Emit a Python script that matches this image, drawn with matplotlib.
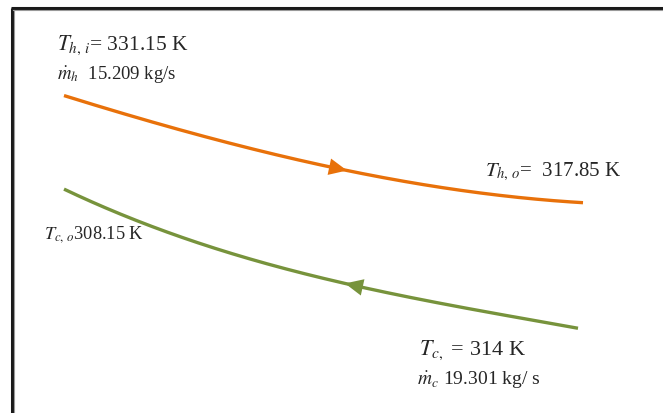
import numpy as np
import matplotlib
matplotlib.use("Agg")
import matplotlib.pyplot as plt

plt.rcParams['mathtext.fontset'] = 'stix'
plt.rcParams['font.family'] = ['Liberation Serif', 'DejaVu Serif']

# Curve profiles (pixel-space diagram coordinates)
hot_x = [64, 120, 200, 280, 338, 400, 480, 583]
hot_y = [97, 113, 136, 157, 170, 182, 193, 204]
cold_x = [64, 110, 165, 250, 320, 352, 400, 480, 578]
cold_y = [190, 210, 234, 260, 277, 285, 298, 312, 329]

hot_arrow_at = 340   # arrow points to the right (flow direction)
cold_arrow_at = 352  # arrow points to the left

labels = {
    'hot_in': r'$T_{h,\,i}$= 331.15 K',
    'hot_flow': r'$\dot{m}_{h}$  15.209 kg/s',
    'hot_out': r'$T_{h,\,o}$=  317.85 K',
    'cold_out': r'$T_{c,\,o}$308.15 K',
    'cold_in': r'$T_{c,}$ = 314 K',
    'cold_flow': r'$\dot{m}_{c}$ 19.301 kg/ s',
}

ORANGE = '#E8710A'
GREEN = '#77933C'

fig = plt.figure(figsize=(6.63, 4.14), dpi=100)
ax = fig.add_axes([0, 0, 1, 1])
ax.set_xlim(0, 663)
ax.set_ylim(414, 0)
ax.axis('off')

def smooth(xs, ys):
    xx = np.linspace(xs[0], xs[-1], 300)
    c = np.polyfit(xs, ys, 3)
    return xx, np.polyval(c, xx), c

hx, hy, hc = smooth(hot_x, hot_y)
cx, cy, cc = smooth(cold_x, cold_y)
ax.plot(hx, hy, color=ORANGE, lw=2.4, solid_capstyle='butt')
ax.plot(cx, cy, color=GREEN, lw=2.4, solid_capstyle='butt')

def arrow(c, x0, direction, color):
    x1 = x0 + direction * 7
    xb = x0 - direction * 18
    ax.annotate('', xy=(x1, np.polyval(c, x1)), xytext=(xb, np.polyval(c, xb)),
                arrowprops=dict(arrowstyle='-|>,head_length=1.3,head_width=0.6',
                                color=color, lw=0, shrinkA=0, shrinkB=0))

arrow(hc, hot_arrow_at, 1, ORANGE)
arrow(cc, cold_arrow_at, -1, GREEN)

tc = '#262626'
ax.text(57, 45, labels['hot_in'], fontsize=15.5, va='center', ha='left', color=tc)
ax.text(57, 75, labels['hot_flow'], fontsize=13.5, va='center', ha='left', color=tc)
ax.text(485, 172, labels['hot_out'], fontsize=15, va='center', ha='left', color=tc)
ax.text(44, 235, labels['cold_out'], fontsize=13.2, va='center', ha='left', color=tc)
ax.text(419, 350, labels['cold_in'], fontsize=16, va='center', ha='left', color=tc)
ax.text(417, 380, labels['cold_flow'], fontsize=14, va='center', ha='left', color=tc)

# frame (top and left edges)
ax.plot([11.5, 11.5], [414, 8.5], color='#1a1a1a', lw=2.2, solid_capstyle='butt')
ax.plot([10.5, 663], [8.5, 8.5], color='#1a1a1a', lw=2.2, solid_capstyle='butt')
ax.plot([13.5, 13.5], [414, 10.5], color='#9a9a9a', lw=0.8)
ax.plot([13, 663], [10.5, 10.5], color='#9a9a9a', lw=0.8)

fig.savefig('out.png', dpi=100)
